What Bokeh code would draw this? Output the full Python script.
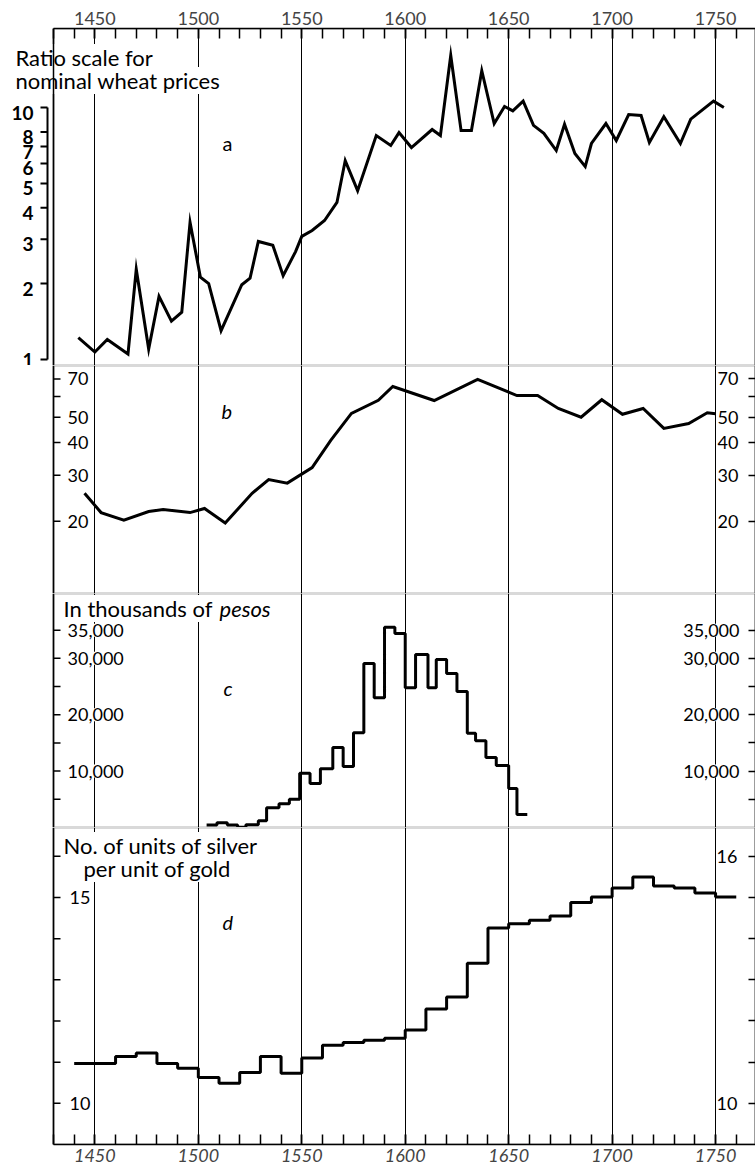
import math
from bokeh.plotting import figure
from bokeh.models import (Range1d, LinearAxis, LogAxis, FixedTicker, Label, Grid,
                          BoxAnnotation, Span)
from bokeh.layouts import column
from bokeh.embed import file_html
from bokeh.resources import INLINE

# ---------------- data ----------------
# a: nominal wheat prices (ratio scale)
years_a = [1442, 1450, 1456, 1466, 1470, 1476, 1481, 1487, 1492, 1496, 1501, 1505,
           1511, 1521, 1525, 1529, 1536, 1541, 1547, 1550, 1555, 1561, 1567, 1571,
           1577, 1586, 1593, 1597, 1603, 1613, 1617, 1622, 1627, 1632, 1637, 1643,
           1648, 1652, 1657, 1662, 1667, 1673, 1677, 1682, 1687, 1690, 1697, 1702,
           1708, 1714, 1718, 1725, 1733, 1738, 1749, 1754]
wheat = [1.22, 1.07, 1.2, 1.05, 2.28, 1.1, 1.78, 1.42, 1.54, 3.5, 2.12, 2.0,
         1.3, 1.98, 2.1, 2.94, 2.84, 2.15, 2.68, 3.08, 3.25, 3.56, 4.2, 6.16,
         4.68, 7.74, 7.07, 7.95, 6.94, 8.18, 7.74, 16.1, 8.1, 8.1, 14.0, 8.64,
         10.1, 9.7, 10.6, 8.5, 7.9, 6.75, 8.58, 6.57, 5.83, 7.2, 8.64, 7.4,
         9.38, 9.3, 7.27, 9.2, 7.2, 9.0, 10.6, 10.0]

# b
years_b = [1445, 1453, 1464, 1476, 1483, 1496, 1503, 1513, 1526, 1534, 1543, 1555,
           1564, 1574, 1587, 1594, 1614, 1635, 1654, 1664, 1674, 1685, 1695, 1705,
           1715, 1725, 1737, 1746, 1750]
series_b = [25.6, 21.6, 20.2, 21.8, 22.2, 21.6, 22.4, 19.7, 25.6, 28.9, 28.0, 32.1,
            40.8, 51.7, 58.0, 65.5, 57.9, 69.7, 60.5, 60.5, 54.0, 50.0, 58.3, 51.3,
            54.0, 45.3, 47.3, 52.0, 51.5]

# c: treasure imports, thousands of pesos (period start years)
starts_c = [1504, 1509, 1514, 1519, 1523, 1529, 1533, 1539, 1544, 1549, 1554, 1559,
            1565, 1570, 1575, 1580, 1585, 1590, 1595, 1600, 1605, 1611, 1615, 1620,
            1625, 1630, 1634, 1639, 1644, 1650, 1654]
end_c = 1659
pesos = [450, 850, 450, 30, 500, 1200, 3500, 4200, 5000, 9600, 7800, 10400,
         14200, 10800, 16800, 29100, 23000, 35500, 34400, 24800, 30700, 24800, 29800, 27300,
         24100, 16700, 15400, 12400, 11000, 6900, 2300]

# d: silver/gold ratio (decade start years)
starts_d = [1440, 1450, 1460, 1470, 1480, 1490, 1500, 1510, 1520, 1530, 1540, 1550,
            1560, 1570, 1580, 1590, 1600, 1610, 1620, 1630, 1640, 1650, 1660, 1670,
            1680, 1690, 1700, 1710, 1720, 1730, 1740, 1750]
end_d = 1760
ratio = [10.97, 10.97, 11.14, 11.22, 10.97, 10.85, 10.63, 10.49, 10.75, 11.14, 10.73, 11.1,
         11.41, 11.48, 11.53, 11.58, 11.78, 12.29, 12.58, 13.4, 14.26, 14.36, 14.45, 14.55,
         14.88, 15.01, 15.23, 15.5, 15.28, 15.23, 15.11, 15.01]

year_labels = [1450, 1500, 1550, 1600, 1650, 1700, 1750]
year_minor = list(range(1430, 1770, 10))
ticks_a = [1, 2, 3, 4, 5, 6, 7, 8, 10]
ticks_b = [20, 30, 40, 50, 60, 70]
labels_b = [20, 30, 40, 50, 70]
ticks_c = [5000, 10000, 15000, 20000, 25000, 30000, 35000]
labels_c = [10000, 20000, 30000, 35000]
ticks_d = [10, 11, 12, 13, 14, 15, 16]
labels_d_left = [10, 15]
labels_d_right = [10, 16]

FONT = "Lato"
NUM = "18px"
TXT = "22px"
W = 755
LEFT = 53                                # pixel position of the left frame line
X0, X1 = 1430, 1769.3
scale = (W - LEFT) / (X1 - X0)          # px per year
# every frame spans the full width; the visible frame is drawn from X0
xr = Range1d(X0 - LEFT / scale, X1)


def make_fig(h, yr, log=False, top=0, bottom=0):
    kw = dict(width=W, height=h, x_range=xr, y_range=yr,
              output_backend="svg", toolbar_location=None,
              x_axis_location=None, y_axis_location=None,
              min_border_left=0, min_border_right=0,
              min_border_top=top, min_border_bottom=bottom)
    if log:
        kw["y_axis_type"] = "log"
    p = figure(**kw)
    p.center = []
    p.add_layout(Grid(dimension=0, ticker=FixedTicker(ticks=year_labels),
                      grid_line_color="black", grid_line_width=1), "center")
    p.outline_line_color = None
    p.background_fill_color = "white"
    p.border_fill_color = "white"
    # visible frame: starts at X0
    p.add_layout(BoxAnnotation(left=X0, fill_color=None, line_color="black",
                               line_width=2.2, level="underlay"))
    p.add_layout(Span(location=X0, dimension="height", line_color="black",
                      line_width=1.5, level="overlay"))
    return p


def right_axis(p, ticks, log=False, tick_len=7):
    cls = LogAxis if log else LinearAxis
    ax = cls(ticker=FixedTicker(ticks=ticks),
             major_tick_in=tick_len, major_tick_out=0, minor_tick_in=0, minor_tick_out=0,
             major_label_standoff=0, axis_line_color="black", axis_line_width=1.5,
             major_tick_line_width=1.5,
             major_label_overrides={t: "" for t in ticks})
    p.add_layout(ax, "right")


def left_ticks(p, ticks):
    p.ray(x=[X0] * len(ticks), y=ticks, length=7, length_units="screen", angle=0,
          line_color="black", line_width=1.5)


def tick_labels(p, vals, fmt, side, off, style="normal"):
    for v in vals:
        x = X0 if side == "left" else X1
        p.add_layout(Label(x=x, y=v, text=fmt(v), x_offset=off,
                           text_align="left" if side == "left" else "right",
                           text_baseline="middle", text_font=FONT, text_font_size=NUM,
                           text_font_style=style,
                           text_color="black", background_fill_color="white"))


def note(p, text, xo, yo, style="normal", size=TXT, bg=True):
    p.add_layout(Label(x=X0, y=p.y_range.end, text=text, x_offset=xo, y_offset=yo,
                       text_align="left", text_baseline="middle",
                       text_font=FONT, text_font_size=size, text_font_style=style,
                       text_color="black",
                       background_fill_color="white" if bg else None))


def year_axis(style):
    return LinearAxis(ticker=FixedTicker(ticks=year_labels, minor_ticks=year_minor),
                      bounds=(X0, X1),
                      major_tick_in=10, major_tick_out=0, minor_tick_in=10, minor_tick_out=0,
                      major_label_standoff=4, axis_line_width=1.5, major_tick_line_width=1.5,
                      minor_tick_line_width=1.5,
                      major_label_text_font=FONT, major_label_text_font_size=NUM,
                      major_label_text_font_style=style,
                      major_label_overrides={y: str(y) for y in year_labels})


# ---------------- panel a ----------------
pa = make_fig(365, Range1d(0.946, 20.6), log=True, top=28)
pa.add_layout(year_axis("normal"), "above")
right_axis(pa, ticks_a, log=True, tick_len=0)
# ratio-scale axis (line + outward ticks), set a little left of the frame line
ax_x = X0 - 6 / scale
pa.segment(x0=[ax_x], y0=[ticks_a[0]], x1=[ax_x], y1=[ticks_a[-1]],
           line_color="black", line_width=2)
pa.ray(x=[ax_x] * len(ticks_a), y=ticks_a, length=7, length_units="screen",
       angle=math.pi, line_color="black", line_width=2)
for t in ticks_a:
    # the lowest label sits on the panel's bottom edge: keep it inside
    yo = -1 if t == ticks_a[0] else -5
    pa.add_layout(Label(x=X0, y=t, text=str(t), x_offset=-20, y_offset=yo,
                        text_align="right", text_baseline="alphabetic",
                        text_font=FONT, text_font_size="19px",
                        text_font_style="bold", text_color="black"))
pa.line(years_a, wheat, line_width=3, line_color="black", line_join="miter")
note(pa, "Ratio scale for", -38, -29)
note(pa, "nominal wheat prices", -38, -52)
note(pa, "a", 169, -114, size="20px")

# ---------------- panel b ----------------
pb = make_fig(228, Range1d(10.6, 78.8), log=True)
right_axis(pb, ticks_b, log=True)
left_ticks(pb, ticks_b)
tick_labels(pb, labels_b, lambda v: str(v), "left", 14)
tick_labels(pb, labels_b, lambda v: str(v), "right", -17)
pb.line(years_b, series_b, line_width=3, line_color="black", line_join="miter")
note(pb, "b", 168, -45, style="italic", size="20px")

# ---------------- panel c ----------------
pc = make_fig(234, Range1d(0, 41500))
right_axis(pc, ticks_c)
left_ticks(pc, ticks_c)
tick_labels(pc, labels_c, lambda v: f"{v:,}", "left", 14)
tick_labels(pc, labels_c, lambda v: f"{v:,}", "right", -16)
xs_c = starts_c + [end_c]
ys_c = pesos + [pesos[-1]]
pc.step(xs_c, ys_c, mode="after", line_width=3, line_color="black")
note(pc, "In thousands of", 10, -15)
note(pc, "pesos", 166, -15, style="italic")
note(pc, "c", 170, -94, style="italic", size="20px")

# ---------------- panel d ----------------
pd = make_fig(346, Range1d(9.0, 16.7), bottom=29)
pd.add_layout(year_axis("italic"), "below")
right_axis(pd, ticks_d)
left_ticks(pd, ticks_d)
tick_labels(pd, labels_d_left, lambda v: str(v), "left", 16)
tick_labels(pd, labels_d_right, lambda v: str(v), "right", -18)
xs_d = starts_d + [end_d]
ys_d = ratio + [ratio[-1]]
pd.step(xs_d, ys_d, mode="after", line_width=3, line_color="black")
note(pd, "No. of units of silver", 10, -18)
note(pd, "per unit of gold", 30, -41)
note(pd, "d", 169, -94, style="italic", size="20px")

layout = column(pa, pb, pc, pd, spacing=0)
open("out.html", "w").write(file_html(layout, INLINE))
